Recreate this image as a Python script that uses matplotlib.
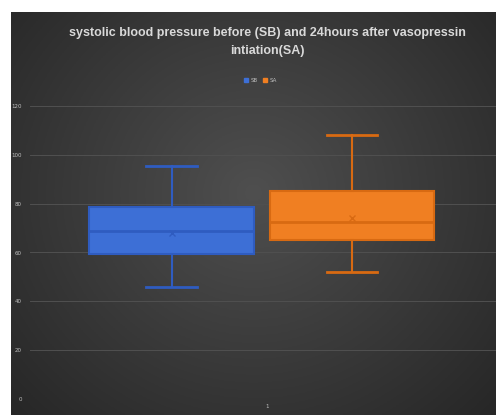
import numpy as np
import matplotlib
matplotlib.use("Agg")
import matplotlib.pyplot as plt

# box statistics
labels = ["SB", "SA"]
whislo = [46, 52]
q1 = [59.5, 65]
med = [69, 72.5]
q3 = [78.5, 85]
whishi = [95.5, 108]
means = [68, 74]
colors = ["#3d6fd6", "#f07f22"]
edges = ["#2f5cc0", "#d86a12"]

fig = plt.figure(figsize=(4.96, 4.15), dpi=100)
fig.patch.set_facecolor("white")

# dark radial background (Excel style)
bg = fig.add_axes([11 / 496, 0, 1 - 11 / 496, 1 - 12 / 415])
yy, xx = np.mgrid[0:1:200j, 0:1:200j]
r = np.sqrt(((xx - 0.5) / 0.7) ** 2 + ((yy - 0.45) / 0.8) ** 2)
shade = np.clip(0.31 - 0.16 * r, 0.15, 0.31)
bg.imshow(np.dstack([shade] * 3), aspect="auto", extent=[0, 1, 0, 1])
bg.axis("off")

ax = fig.add_axes([30 / 496, 1 - 399 / 415, 466 / 496, (399 - 106) / 415])
ax.set_facecolor("none")

positions = [0.81, 1.205]
stats = []
for i in range(2):
    stats.append(dict(label=labels[i], whislo=whislo[i], q1=q1[i], med=med[i],
                      q3=q3[i], whishi=whishi[i], mean=means[i], fliers=[]))

for i in range(2):
    ax.bxp([stats[i]], positions=[positions[i]], widths=0.36, patch_artist=True,
           showmeans=True, manage_ticks=False,
           boxprops=dict(facecolor=colors[i], edgecolor=edges[i], linewidth=1.5),
           medianprops=dict(color=edges[i], linewidth=2),
           whiskerprops=dict(color=edges[i], linewidth=1.5),
           capprops=dict(color=edges[i], linewidth=2),
           capwidths=0.11,
           meanprops=dict(marker="x", markeredgecolor=edges[i], markersize=4))

ax.set_xlim(0.5, 1.52)
ax.set_ylim(0, 120)
ax.set_yticks(range(0, 121, 20))
ax.set_xticks([1.02])
ax.set_xticklabels(["1"])
ax.yaxis.grid(True, color="#505050", linewidth=0.7)
ax.set_axisbelow(True)
for s in ax.spines.values():
    s.set_visible(False)
ax.tick_params(length=0, colors="#bfbfbf", labelsize=4)
ax.tick_params(axis="y", pad=6)

fig.text(0.54, 0.898, "systolic blood pressure before (SB) and 24hours after vasopressin\nintiation(SA)",
         ha="center", va="center", color="#d9d9d9", fontsize=9, fontweight="bold",
         family=["Liberation Sans", "DejaVu Sans"], linespacing=1.7)

# legend
handles = [plt.Rectangle((0, 0), 1, 1, color=c) for c in colors]
fig.legend(handles, labels, loc="center", bbox_to_anchor=(0.525, 0.807), ncol=2,
           frameon=False, fontsize=4, labelcolor="#bfbfbf", handlelength=0.8,
           handleheight=0.8, columnspacing=1.0, handletextpad=0.4)

fig.savefig("out.png", dpi=100)
